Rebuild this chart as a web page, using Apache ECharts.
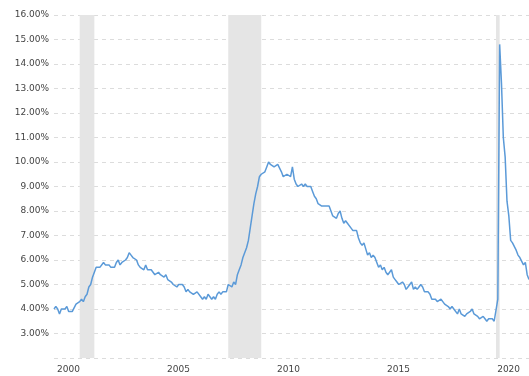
<!DOCTYPE html>
<html>
<head>
<meta charset="utf-8">
<script src="https://cdn.jsdelivr.net/npm/echarts@6/dist/echarts.min.js"></script>
<style>
  html, body { margin: 0; padding: 0; background: #fff; }
  #chart { width: 529px; height: 376px; }
</style>
</head>
<body>
<div id="chart"></div>
<script>
// Monthly U.S. unemployment rate (%), seasonally adjusted, January 2000 onward
const startYear = 2000;
const rate2000s = [
  4.0, 4.1, 4.0, 3.8, 4.0, 4.0, 4.0, 4.1, 3.9, 3.9, 3.9, 3.9, // 2000
  4.2, 4.2, 4.3, 4.4, 4.3, 4.5, 4.6, 4.9, 5.0, 5.3, 5.5, 5.7, // 2001
  5.7, 5.7, 5.7, 5.9, 5.8, 5.8, 5.8, 5.7, 5.7, 5.7, 5.9, 6.0, // 2002
  5.8, 5.9, 5.9, 6.0, 6.1, 6.3, 6.2, 6.1, 6.1, 6.0, 5.8, 5.7, // 2003
  5.7, 5.6, 5.8, 5.6, 5.6, 5.6, 5.5, 5.4, 5.4, 5.5, 5.4, 5.4, // 2004
  5.3, 5.4, 5.2, 5.2, 5.1, 5.0, 5.0, 4.9, 5.0, 5.0, 5.0, 4.9, // 2005
  4.7, 4.8, 4.7, 4.7, 4.6, 4.6, 4.7, 4.7, 4.5, 4.4, 4.5, 4.4, // 2006
  4.6, 4.5, 4.4, 4.5, 4.4, 4.6, 4.7, 4.6, 4.7, 4.7, 4.7, 5.0, // 2007
  5.0, 4.9, 5.1, 5.0, 5.4, 5.6, 5.8, 6.1, 6.1, 6.5, 6.8, 7.3, // 2008
  7.8, 8.3, 8.7, 9.0, 9.4, 9.5, 9.5, 9.6, 9.8, 10.0, 9.9, 9.9 // 2009
];
const rate2010s = [
  9.8, 9.8, 9.9, 9.9, 9.6, 9.4, 9.4, 9.5, 9.5, 9.4, 9.8, 9.3, // 2010
  9.1, 9.0, 9.0, 9.1, 9.0, 9.1, 9.0, 9.0, 9.0, 8.8, 8.6, 8.5, // 2011
  8.3, 8.3, 8.2, 8.2, 8.2, 8.2, 8.2, 8.0, 7.8, 7.8, 7.7, 7.9, // 2012
  8.0, 7.7, 7.5, 7.6, 7.5, 7.5, 7.3, 7.2, 7.2, 7.2, 6.9, 6.7, // 2013
  6.6, 6.7, 6.7, 6.2, 6.3, 6.1, 6.2, 6.1, 5.9, 5.7, 5.8, 5.6, // 2014
  5.7, 5.5, 5.4, 5.4, 5.6, 5.3, 5.2, 5.1, 5.0, 5.0, 5.1, 5.0, // 2015
  4.8, 4.9, 5.0, 5.1, 4.8, 4.9, 4.8, 4.9, 5.0, 4.9, 4.7, 4.7, // 2016
  4.7, 4.6, 4.4, 4.4, 4.4, 4.3, 4.3, 4.4, 4.3, 4.2, 4.2, 4.1, // 2017
  4.0, 4.1, 4.0, 4.0, 3.8, 4.0, 3.8, 3.8, 3.7, 3.8, 3.8, 3.9, // 2018
  4.0, 3.8, 3.8, 3.7, 3.6, 3.6, 3.7, 3.6, 3.5, 3.6, 3.6, 3.6  // 2019
];
const rate2020s = [
  3.5, 3.5, 4.4, 14.8, 13.2, 11.0, 10.2, 8.4, 7.8, 6.8, 6.7, 6.7, // 2020
  6.4, 6.2, 6.1, 6.1, 5.8, 5.9, 5.4, 5.2                           // 2021
];

// Recession periods as [start, end] in fractional years
const recessions = [
  [2001 + 2 / 12, 2001 + 10 / 12],
  [2007 + 11 / 12, 2009 + 5 / 12],
  [2020 + 1 / 12, 2020 + 3 / 12]
];

const yearLabels = [2000, 2005, 2010, 2015, 2020];

const monthly = rate2000s.concat(rate2010s, rate2020s);
const seriesData = monthly.map((v, i) => [startYear + i / 12, v]);
const lastX = startYear + (monthly.length - 1) / 12;

const font = 'DejaVu Sans';
const chart = echarts.init(document.getElementById('chart'), null, { renderer: 'canvas' });
chart.setOption({
  animation: false,
  backgroundColor: '#ffffff',
  grid: { left: 54, right: 0, top: 15, bottom: 18, containLabel: false },
  xAxis: {
    type: 'value',
    min: startYear,
    max: lastX,
    interval: 5,
    axisLine: { show: false },
    axisTick: { show: false },
    splitLine: { show: false },
    axisLabel: {
      align: 'left',
      margin: 7,
      padding: [0, 0, 0, 3],
      color: '#444',
      fontFamily: font,
      fontSize: 9,
      showMaxLabel: false,
      formatter: v => (yearLabels.indexOf(Math.round(v)) >= 0 && Math.abs(v - Math.round(v)) < 1e-6) ? String(Math.round(v)) : ''
    }
  },
  yAxis: {
    type: 'value',
    min: 2,
    max: 16,
    interval: 1,
    axisLine: { show: false },
    axisTick: { show: false },
    splitLine: { show: true, lineStyle: { color: '#dcdcdc', type: [4, 4], width: 1 } },
    axisLabel: {
      margin: 5,
      color: '#444',
      fontFamily: font,
      fontSize: 9,
      formatter: v => v === 2 ? '' : v.toFixed(2) + '%'
    }
  },
  series: [{
    type: 'line',
    data: seriesData,
    showSymbol: false,
    lineStyle: { color: '#5b9ad8', width: 1.5 },
    markArea: {
      silent: true,
      itemStyle: { color: '#e5e5e5' },
      data: recessions.map(r => [{ xAxis: r[0] }, { xAxis: r[1] }])
    },
    z: 3
  }]
});
</script>
</body>
</html>
